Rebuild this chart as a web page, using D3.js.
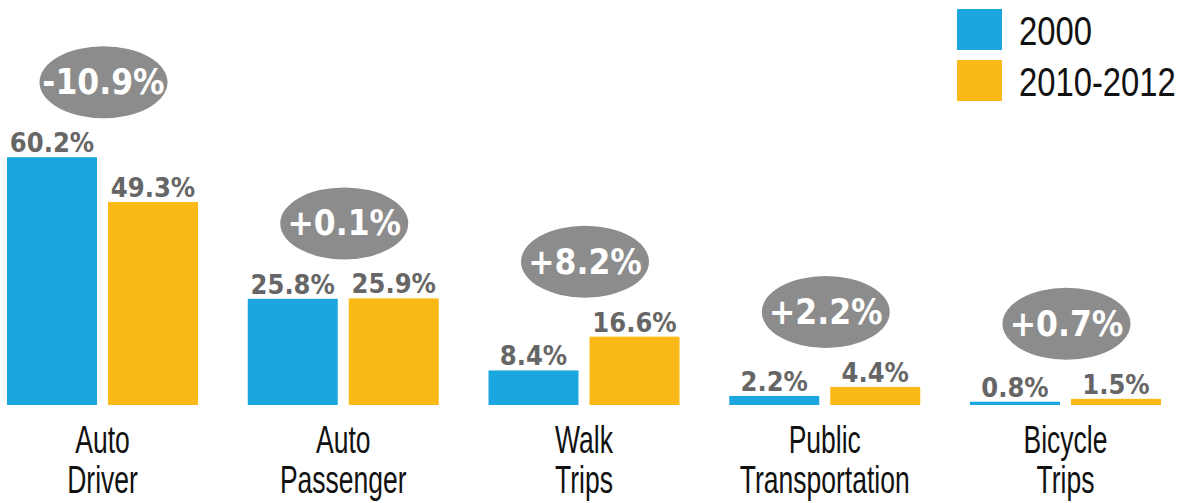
<!DOCTYPE html>
<html>
<head>
<meta charset="utf-8">
<script src="https://cdn.jsdelivr.net/npm/d3@7"></script>
<style>
  body { margin: 0; background: #fff; }
  svg { display: block; }
</style>
</head>
<body>
<div id="chart"></div>
<script>
const categories = [['Auto', 'Driver'], ['Auto', 'Passenger'], ['Walk', 'Trips'], ['Public', 'Transportation'], ['Bicycle', 'Trips']]
const series = ['2000', '2010-2012']
const values2000 = [60.2, 25.8, 8.4, 2.2, 0.8]
const values2010 = [49.3, 25.9, 16.6, 4.4, 1.5]
const changes = ['-10.9%', '+0.1%', '+8.2%', '+2.2%', '+0.7%']
const colors = ['#1ba6e0', '#fbb917']

const width = 1178
const height = 503
// no condensed face is installed, so a squeezed Liberation Sans stands in
const narrow = 'Liberation Sans, Arial, sans-serif'
const bold = '"DejaVu Sans Condensed", "DejaVu Sans", sans-serif'

const svg = d3.select('#chart')
  .append('svg')
  .attr('width', width)
  .attr('height', height)

const keys = categories.map(c => c.join(' '))

const x0 = d3.scaleBand()
  .domain(keys)
  .range([7, 1161])
  .paddingInner(0.2066)

const x1 = d3.scaleBand()
  .domain(series)
  .range([0, x0.bandwidth()])
  .paddingInner(0.109)

const y = d3.scaleLinear()
  .domain([0, 60])
  .range([405, 158])

const color = d3.scaleOrdinal().domain(series).range(colors)

const data = keys.map((k, i) => ({
  key: k,
  lines: categories[i],
  change: changes[i],
  vals: [
    { s: series[0], v: values2000[i] },
    { s: series[1], v: values2010[i] }
  ]
}))

const groups = svg.selectAll('.group')
  .data(data)
  .enter().append('g')
  .attr('class', 'group')
  .attr('transform', d => `translate(${x0(d.key)},0)`)

groups.selectAll('rect')
  .data(d => d.vals)
  .enter().append('rect')
  .attr('x', d => x1(d.s))
  .attr('y', d => y(d.v))
  .attr('width', x1.bandwidth())
  .attr('height', d => y(0) - y(d.v))
  .attr('fill', d => color(d.s))

groups.selectAll('.val')
  .data(d => d.vals)
  .enter().append('text')
  .attr('class', 'val')
  .attr('x', d => x1(d.s) + x1.bandwidth() / 2)
  .attr('y', d => y(d.v) - 5)
  .attr('text-anchor', 'middle')
  .attr('font-family', bold)
  .attr('font-weight', 'bold')
  .attr('font-size', 27)
  .attr('fill', '#666')
  .text(d => d.v.toFixed(1) + '%')

// change bubbles
const bubble = groups.append('g')
  .attr('transform', d => `translate(${x0.bandwidth() / 2 + 1},${y(d3.max(d.vals, v => v.v)) - 75})`)

bubble.append('ellipse')
  .attr('rx', 64)
  .attr('ry', 36)
  .attr('fill', '#8c8c8c')

bubble.append('text')
  .attr('y', 12)
  .attr('text-anchor', 'middle')
  .attr('font-family', bold)
  .attr('font-weight', 'bold')
  .attr('font-size', 35)
  .attr('fill', '#fff')
  .text(d => d.change)

// category labels
groups.selectAll('.cat')
  .data(d => d.lines)
  .enter().append('text')
  .attr('class', 'cat')
  .attr('transform', (d, i) => `translate(${x0.bandwidth() / 2},${453 + i * 40}) scale(0.68,1)`)
  .attr('text-anchor', 'middle')
  .attr('font-family', narrow)
  .attr('font-size', 39)
  .attr('fill', '#111')
  .text(d => d)

// legend
const legend = svg.selectAll('.legend')
  .data(series)
  .enter().append('g')
  .attr('class', 'legend')
  .attr('transform', (d, i) => `translate(957,${9 + i * 51})`)

legend.append('rect')
  .attr('width', 45)
  .attr('height', 41)
  .attr('fill', d => color(d))

legend.append('text')
  .attr('transform', 'translate(62,36) scale(0.8,1)')
  .attr('font-family', narrow)
  .attr('font-size', 41)
  .attr('fill', '#111')
  .text(d => d)
</script>
</body>
</html>
